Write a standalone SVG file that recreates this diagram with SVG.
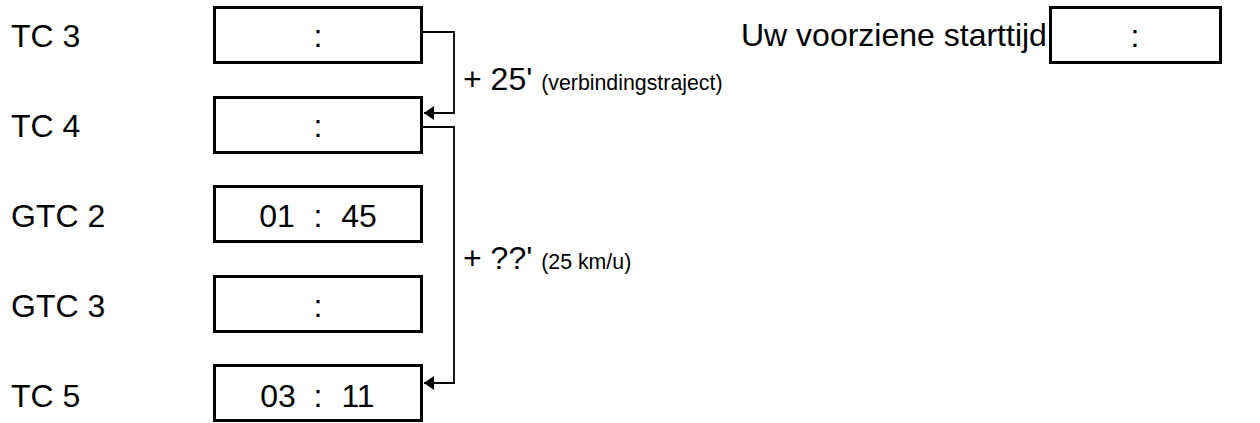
<svg xmlns="http://www.w3.org/2000/svg" width="1260" height="423" viewBox="0 0 1260 423">
<style>
.lbl{font-family:"Liberation Sans",Arial,sans-serif;font-size:32px;fill:#000}
.box{fill:#fff;stroke:#000;stroke-width:3}
.mid{text-anchor:middle}
.small{font-size:21.33px}
.con{fill:none;stroke:#000;stroke-width:1.8}
</style>
<defs>
<marker id="arr" markerWidth="11" markerHeight="14" refX="10" refY="7" orient="auto" markerUnits="userSpaceOnUse" overflow="visible">
<path d="M0,0 L10,7 L0,14 Z" fill="#000"/>
</marker>
</defs>
<rect width="1260" height="423" fill="#fff"/>
<g id="tc3">
<text class="lbl" x="11" y="47">TC 3</text>
<rect class="box" x="214.5" y="7.5" width="207" height="55"/>
<text class="lbl mid" x="318" y="47">:</text>
</g>
<g id="tc4">
<text class="lbl" x="11" y="137">TC 4</text>
<rect class="box" x="214.5" y="97.5" width="207" height="55"/>
<text class="lbl mid" x="318" y="137">:</text>
</g>
<g id="gtc2">
<text class="lbl" x="11" y="227">GTC 2</text>
<rect class="box" x="214.5" y="186.5" width="207" height="55"/>
<text class="lbl mid" x="277" y="227">01</text>
<text class="lbl mid" x="318" y="227">:</text>
<text class="lbl mid" x="359" y="227">45</text>
</g>
<g id="gtc3">
<text class="lbl" x="11" y="317">GTC 3</text>
<rect class="box" x="214.5" y="276.5" width="207" height="55"/>
<text class="lbl mid" x="318" y="317">:</text>
</g>
<g id="tc5">
<text class="lbl" x="11" y="407">TC 5</text>
<rect class="box" x="214.5" y="365.5" width="207" height="55"/>
<text class="lbl mid" x="278" y="407">03</text>
<text class="lbl mid" x="318" y="407">:</text>
<text class="lbl mid" x="358" y="407">11</text>
</g>
<g id="start">
<text class="lbl" x="741" y="46">Uw voorziene starttijd</text>
<rect class="box" x="1050.5" y="7.5" width="170" height="55"/>
<text class="lbl mid" x="1135" y="47">:</text>
</g>
<g id="connectors">
<path class="con" d="M423,32 H454 V113 H424" marker-end="url(#arr)"/>
<path class="con" d="M423,127 H454 V383 H424" marker-end="url(#arr)"/>
<text class="lbl" x="463" y="90">+ 25' <tspan class="small">(verbindingstraject)</tspan></text>
<text class="lbl" x="463" y="269">+ ??' <tspan class="small">(25 km/u)</tspan></text>
</g>
</svg>
